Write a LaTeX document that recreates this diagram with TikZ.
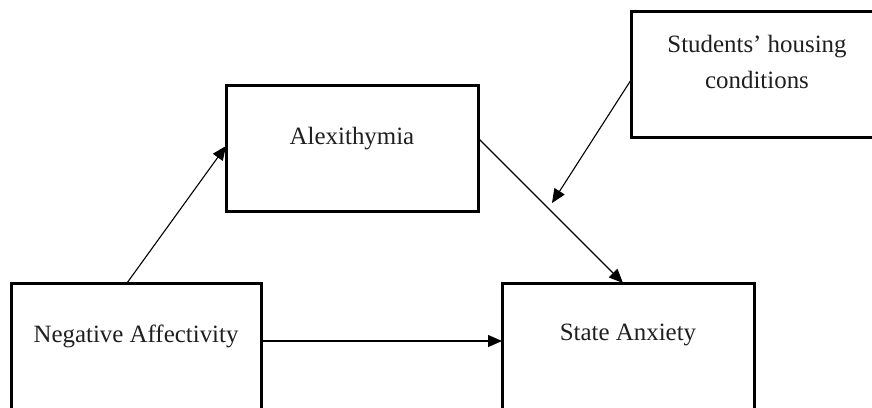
\documentclass[tikz,border=0pt]{standalone}
\usepackage{fontspec}
\setmainfont{Liberation Serif}
\usetikzlibrary{calc,arrows.meta}
\tikzset{
  box/.style={draw=black, line width=3bp, fill=none, inner sep=0pt, outer sep=0pt, anchor=north west},
  lbl/.style={inner sep=0pt, text=black!88, font=\fontsize{25}{37}\selectfont, align=center},
  arr/.style={draw=black, line width=1.1bp, -{Triangle[length=14bp,width=12bp]}}
}
\begin{document}
\begin{tikzpicture}[x=1bp,y=-1bp]
\useasboundingbox (0,0) rectangle (872,407);
\clip (0,0) rectangle (872,407);
\fill[white] (0,0) rectangle (872,407);
% boxes
\node[box, minimum width=250bp, minimum height=150bp] (na) at (11,283) {};
\node[box, minimum width=252bp, minimum height=150bp] (sa) at (502,283) {};
\node[box, minimum width=252bp, minimum height=126bp] (alex) at (226,85) {};
\node[box, minimum width=270bp, minimum height=126bp] (house) at (631,11) {};
% labels
\node[lbl] (natext) at (136,336) {Negative Affectivity};
\node[lbl] (satext) at (628,335) {State Anxiety};
\node[lbl] (alextext) at (352,139) {Alexithymia};
\node[lbl] (housetext) at (757,62) {Students’ housing\\conditions};
% connectors
\coordinate (mid) at (552,203);
\draw[arr] ($(na.north west)+(116,0)$) -- ($(alex.north west)+(0,61)$);
\draw[arr] ($(alex.north east)+(0,53)$) -- ($(sa.north west)+(121,0)$);
\draw[arr] ($(house.north west)+(0,69)$) -- (mid);
\draw[arr] ($(na.north east)+(0,58)$) -- ($(sa.north west)+(0,58)$);
\end{tikzpicture}
\end{document}
